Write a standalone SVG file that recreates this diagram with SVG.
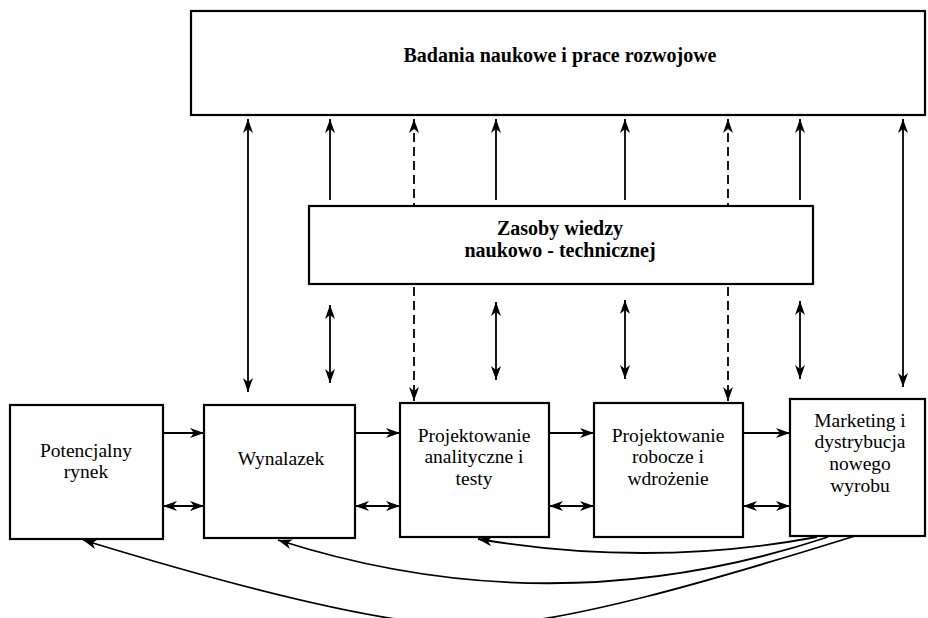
<svg xmlns="http://www.w3.org/2000/svg" width="928" height="618" viewBox="0 0 928 618">
<defs>
<marker id="ah" viewBox="0 0 14 10" refX="14" refY="5" markerWidth="14" markerHeight="10" markerUnits="userSpaceOnUse" orient="auto-start-reverse">
<path d="M0,0 L14,5 L0,10 L4,5 Z" fill="#000"/>
</marker>
</defs>
<style>
.box{fill:#fff;stroke:#000;stroke-width:2.2}
.tb{font-family:"Liberation Serif","Times New Roman",serif;font-size:20px;font-weight:bold;text-anchor:middle;fill:#000}
.t{font-family:"Liberation Serif","Times New Roman",serif;font-size:19.5px;text-anchor:middle;fill:#000}
.c{fill:none;stroke:#000;stroke-width:1.8}
.one{marker-end:url(#ah)}
.two{marker-start:url(#ah);marker-end:url(#ah)}
.d{stroke-dasharray:9 5}
</style>
<g id="connectors">
<line class="c two" x1="248" y1="119" x2="248" y2="392"/>
<line class="c two" x1="903" y1="119" x2="903" y2="387"/>
<line class="c two d" x1="414" y1="119" x2="414" y2="401"/>
<line class="c two d" x1="728" y1="119" x2="728" y2="401"/>
<line class="c one" x1="330" y1="200" x2="330" y2="119"/>
<line class="c one" x1="496" y1="200" x2="496" y2="119"/>
<line class="c one" x1="625" y1="200" x2="625" y2="119"/>
<line class="c one" x1="800" y1="200" x2="800" y2="119"/>
<line class="c two" x1="330" y1="305" x2="330" y2="383"/>
<line class="c two" x1="496" y1="302" x2="496" y2="380"/>
<line class="c two" x1="625" y1="300" x2="625" y2="379"/>
<line class="c two" x1="800" y1="301" x2="800" y2="379"/>
<line class="c one" x1="163" y1="433" x2="204" y2="433"/>
<line class="c one" x1="355" y1="433" x2="400" y2="433"/>
<line class="c one" x1="549" y1="433" x2="594" y2="433"/>
<line class="c one" x1="743" y1="433" x2="790" y2="433"/>
<line class="c two" x1="163" y1="506" x2="204" y2="506"/>
<line class="c two" x1="355" y1="506" x2="400" y2="506"/>
<line class="c two" x1="549" y1="506" x2="594" y2="506"/>
<line class="c two" x1="743" y1="506" x2="790" y2="506"/>
<path class="c one" d="M817,537 Q650,568 478,539"/>
<path class="c one" d="M828,537 Q553,628 278,540"/>
<path class="c one" d="M855,536 C720,578 560,626 470,626 C380,626 220,582 83,540"/>
</g>
<g id="n-badania">
<rect class="box" x="191" y="11" width="734" height="104"/>
<text class="tb" x="560" y="62">Badania naukowe i prace rozwojowe</text>
</g>
<g id="n-zasoby">
<rect class="box" x="309" y="206" width="504" height="78"/>
<text class="tb" x="560" y="235">Zasoby wiedzy</text>
<text class="tb" x="560" y="257">naukowo - technicznej</text>
</g>
<g id="n-rynek">
<rect class="box" x="10" y="405" width="153" height="134"/>
<text class="t" x="86" y="457">Potencjalny</text>
<text class="t" x="86" y="478">rynek</text>
</g>
<g id="n-wynalazek">
<rect class="box" x="204" y="405" width="151" height="133"/>
<text class="t" x="281" y="465">Wynalazek</text>
</g>
<g id="n-analityczne">
<rect class="box" x="400" y="403" width="149" height="134"/>
<text class="t" x="474" y="442">Projektowanie</text>
<text class="t" x="474" y="463">analityczne i</text>
<text class="t" x="474" y="485">testy</text>
</g>
<g id="n-robocze">
<rect class="box" x="594" y="403" width="149" height="134"/>
<text class="t" x="668" y="442">Projektowanie</text>
<text class="t" x="668" y="463">robocze i</text>
<text class="t" x="668" y="485">wdrożenie</text>
</g>
<g id="n-marketing">
<rect class="box" x="790" y="399" width="135" height="137"/>
<text class="t" x="860" y="427">Marketing i</text>
<text class="t" x="860" y="448">dystrybucja</text>
<text class="t" x="860" y="470">nowego</text>
<text class="t" x="860" y="492">wyrobu</text>
</g>
</svg>
